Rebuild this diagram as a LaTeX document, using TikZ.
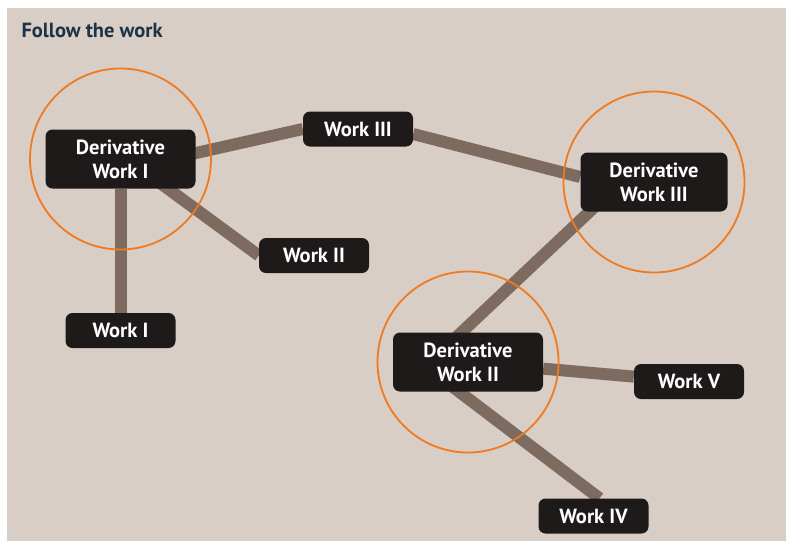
\documentclass[tikz,border=0pt]{standalone}
\usepackage{fontspec}
\setmainfont{PT Sans}
\usetikzlibrary{backgrounds}
\definecolor{paper}{HTML}{D8CEC5}
\definecolor{boxfill}{HTML}{1E1A1A}
\definecolor{linkcol}{HTML}{7D6B60}
\definecolor{ringcol}{HTML}{EE7B22}
\definecolor{titlecol}{HTML}{1E3247}
\begin{document}
\begin{tikzpicture}[x=1pt,y=-1pt]

      \tikzset{work/.style={draw=none, fill=boxfill, rounded corners=7pt, text=white, font=\bfseries\fontsize{20.5}{24}\selectfont, align=center, inner sep=0pt, minimum width=110pt, minimum height=35pt},
               derived/.style={work, minimum width=150pt, minimum height=59pt},
               link/.style={draw=linkcol, line width=12pt},
               ring/.style={draw=ringcol, line width=1.8pt}}
      \useasboundingbox (0,0) rectangle (790,542);
% Title
      	\node[anchor=west, text=titlecol, font=\bfseries\fontsize{20.5}{24}\selectfont] (title) at (18,30) {Follow the work};
% Nodes
	%Derivative works
      	\node[derived] (dw1) at (120.5,159) {Derivative\\Work I};
      	\node[derived] (dw2) at (468,362) {Derivative\\Work II};
    	\node[derived, minimum width=147pt] (dw3) at (654,182) {Derivative\\Work III};
	%Works
  	    \node[work] (w1) at (120.5,330.5) {Work I};
  	    \node[work] (w2) at (314,255.5) {Work II};
  	    \node[work] (w3) at (358,129) {Work III};
  	    \node[work] (w4) at (593.5,516) {Work IV};
  	    \node[work] (w5) at (689,381.5) {Work V};
% Links and rings
	\begin{pgfonlayer}{background}
		\fill[paper] (7,8) rectangle (786,541);
		\path (dw1) edge[link] (w1);
		\path ([yshift=-11pt]dw1.center) edge[link] (w3.west);
		\path ([xshift=7pt]dw1.center) edge[link] (w2.west);
		\path ([yshift=-5pt]w3.east) edge[link] ([yshift=5pt]dw3.west);
		\path ([xshift=-38pt]dw2.center) edge[link] ([xshift=-33pt]dw3.center);
		\path (dw2) edge[link] (w5);
		\path ([xshift=-48pt]dw2.center) edge[link] ([xshift=6pt]w4.north);
	%Rings
		\draw[ring] (dw1.center) circle (90.5pt);
		\draw[ring] (dw2.center) circle (90.5pt);
		\draw[ring] (dw3.center) circle (90.5pt);
	\end{pgfonlayer}

	\end{tikzpicture}
\end{document}
